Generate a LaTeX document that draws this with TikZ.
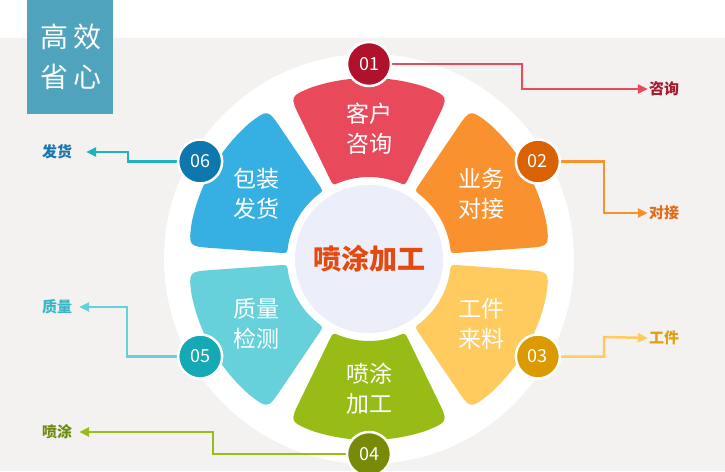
\documentclass[tikz,border=0pt]{standalone}
\usepackage{fontspec}
\setmainfont{Noto Sans CJK SC}
\usetikzlibrary{arrows.meta}

\definecolor{bgrey}{HTML}{F4F2F1}
\definecolor{titlebox}{HTML}{4FA3BD}
\definecolor{lav}{HTML}{ECEEF9}
\definecolor{coretext}{HTML}{E44A10}
% petals
\definecolor{cA}{HTML}{E84A5C}
\definecolor{cB}{HTML}{FA912F}
\definecolor{cC}{HTML}{FFCA5E}
\definecolor{cD}{HTML}{97BC16}
\definecolor{cE}{HTML}{66D0DB}
\definecolor{cF}{HTML}{36B0E3}
% number discs
\definecolor{nA}{HTML}{B0122B}
\definecolor{nB}{HTML}{DA6203}
\definecolor{nC}{HTML}{DB9A00}
\definecolor{nD}{HTML}{788A08}
\definecolor{nE}{HTML}{14A9B5}
\definecolor{nF}{HTML}{0E78AE}
% side labels
\definecolor{lA}{HTML}{A51A2E}
\definecolor{lB}{HTML}{E36C1A}
\definecolor{lC}{HTML}{E0A010}
\definecolor{lD}{HTML}{6C8A10}
\definecolor{lE}{HTML}{3AB5C5}
\definecolor{lF}{HTML}{1878B0}
\definecolor{wF}{HTML}{20B2BF}

\begin{document}
\begin{tikzpicture}[x=1pt,y=-1pt,
>={Triangle[length=10pt,width=9pt]},
num/.style={circle,draw=white,line width=2.5pt,minimum size=44pt,inner sep=0pt,text=white,font=\fontsize{18}{18}\selectfont},
ptext/.style={text=white,align=center,font=\fontsize{23}{30}\selectfont},
lab/.style={inner sep=1pt,font=\fontsize{15}{15}\selectfont\bfseries},
conn/.style={line width=2.5pt}]
\useasboundingbox (0,0) rectangle (725,471);

\fill[white] (0,0) rectangle (725,38);
\fill[bgrey] (0,38) rectangle (725,471);
\fill[titlebox] (27,0) rectangle (113,114);
\node[text=white,align=center,font=\fontsize{28}{40}\selectfont] (title) at (71,57) {高\,效\\省\,心};

\coordinate (o) at (369,259);
\fill[white] (o) circle (205pt);

% petals, drawn pointing up and turned into place
\foreach \i/\a/\col/\txt in {1/90/cA/客户\\咨询, 2/30/cB/业务\\对接, 3/-30/cC/工件\\来料, 4/-90/cD/喷涂\\加工, 5/-150/cE/质量\\检测, 6/150/cF/包装\\发货}{
  \begin{scope}[shift={(o)},rotate=\a-90,y=1pt]
  \fill[\col] (111.1:82pt) .. controls (116:82pt) .. (-39.1,80.0) -- (-68.8,141.1)
    .. controls (116:181pt) .. (108.4:181pt) arc[start angle=108.4,end angle=71.6,radius=181pt]
    .. controls (64:181pt) .. (68.8,141.1) -- (39.1,80.0)
    .. controls (64:82pt) .. (68.9:82pt) arc[start angle=68.9,end angle=111.1,radius=82pt] -- cycle;
  \end{scope}
  \node[ptext] (p\i) at ([shift={(\a:130pt)}]o) {\txt};
}

\node[circle,fill=lav,minimum size=148pt,inner sep=0pt,text=coretext,
  font=\fontsize{28}{28}\selectfont\bfseries] (core) at (o) {喷涂加工};

% side labels
\node[lab,text=lA] (l1) at (664,89) {咨询};
\node[lab,text=lB] (l2) at (664,213) {对接};
\node[lab,text=lC] (l3) at (664,338) {工件};
\node[lab,text=lD] (l4) at (57,432) {喷涂};
\node[lab,text=lE] (l5) at (57,307) {质量};
\node[lab,text=lF] (l6) at (57,152) {发货};

\foreach \i/\a in {1/90,2/30,3/-30,4/-90,5/-150,6/150}
  \coordinate (m\i) at ([shift={(\a:195pt)}]o);

\draw[conn,cA,->] (m1) -| (522,89) -- (l1.west);
\draw[conn,cB,->] (m2) -| (604,213) -- (l2.west);
\draw[conn,cC,->] (m3) -| (604,337) -- (l3.west);
\draw[conn,cD,->,shorten >=6pt] (m4) -| (213,432) -- (l4.east);
\draw[conn,cE,->,shorten >=6pt] (m5) -| (127,307) -- (l5.east);
\draw[conn,wF,->,shorten >=13pt] (m6) -| (128,152) -- (l6.east);

\foreach \i/\ncol in {1/nA,2/nB,3/nC,4/nD,5/nE,6/nF}
  \node[num,fill=\ncol] (n\i) at (m\i) {0\i};

\end{tikzpicture}
\end{document}
